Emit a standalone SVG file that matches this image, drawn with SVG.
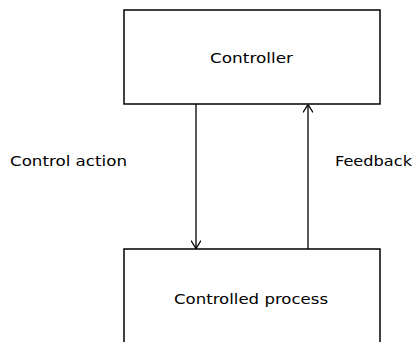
<svg xmlns="http://www.w3.org/2000/svg" width="416" height="342" viewBox="0 0 416 342">
<style>
.box{fill:#fff;stroke:#000;stroke-width:1.5}
.conn{stroke:#000;stroke-width:1.3;fill:none}
.lbl{font-family:"DejaVu Sans","Liberation Sans",sans-serif;font-size:13.5px;fill:#000}
</style>
<defs>
<marker id="arr" viewBox="0 0 10 10" refX="10" refY="5" markerWidth="10" markerHeight="10" markerUnits="userSpaceOnUse" orient="auto">
<path d="M2,0 L10,5 L2,10" fill="none" stroke="#000" stroke-width="1.3"/>
</marker>
</defs>
<rect width="416" height="342" fill="#fff"/>
<g id="controller">
<rect class="box" x="124" y="10" width="256" height="94"/>
<text class="lbl" x="210" y="63" textLength="83" lengthAdjust="spacingAndGlyphs">Controller</text>
</g>
<g id="controlled-process">
<rect class="box" x="124" y="249" width="256" height="110"/>
<text class="lbl" x="174" y="304" textLength="154" lengthAdjust="spacingAndGlyphs">Controlled process</text>
</g>
<g id="connectors">
<line class="conn" x1="196" y1="104" x2="196" y2="248.5" marker-end="url(#arr)"/>
<line class="conn" x1="308" y1="249" x2="308" y2="104.5" marker-end="url(#arr)"/>
</g>
<g id="labels">
<text class="lbl" x="10" y="166" textLength="117" lengthAdjust="spacingAndGlyphs">Control action</text>
<text class="lbl" x="335" y="166" textLength="77" lengthAdjust="spacingAndGlyphs">Feedback</text>
</g>
</svg>
